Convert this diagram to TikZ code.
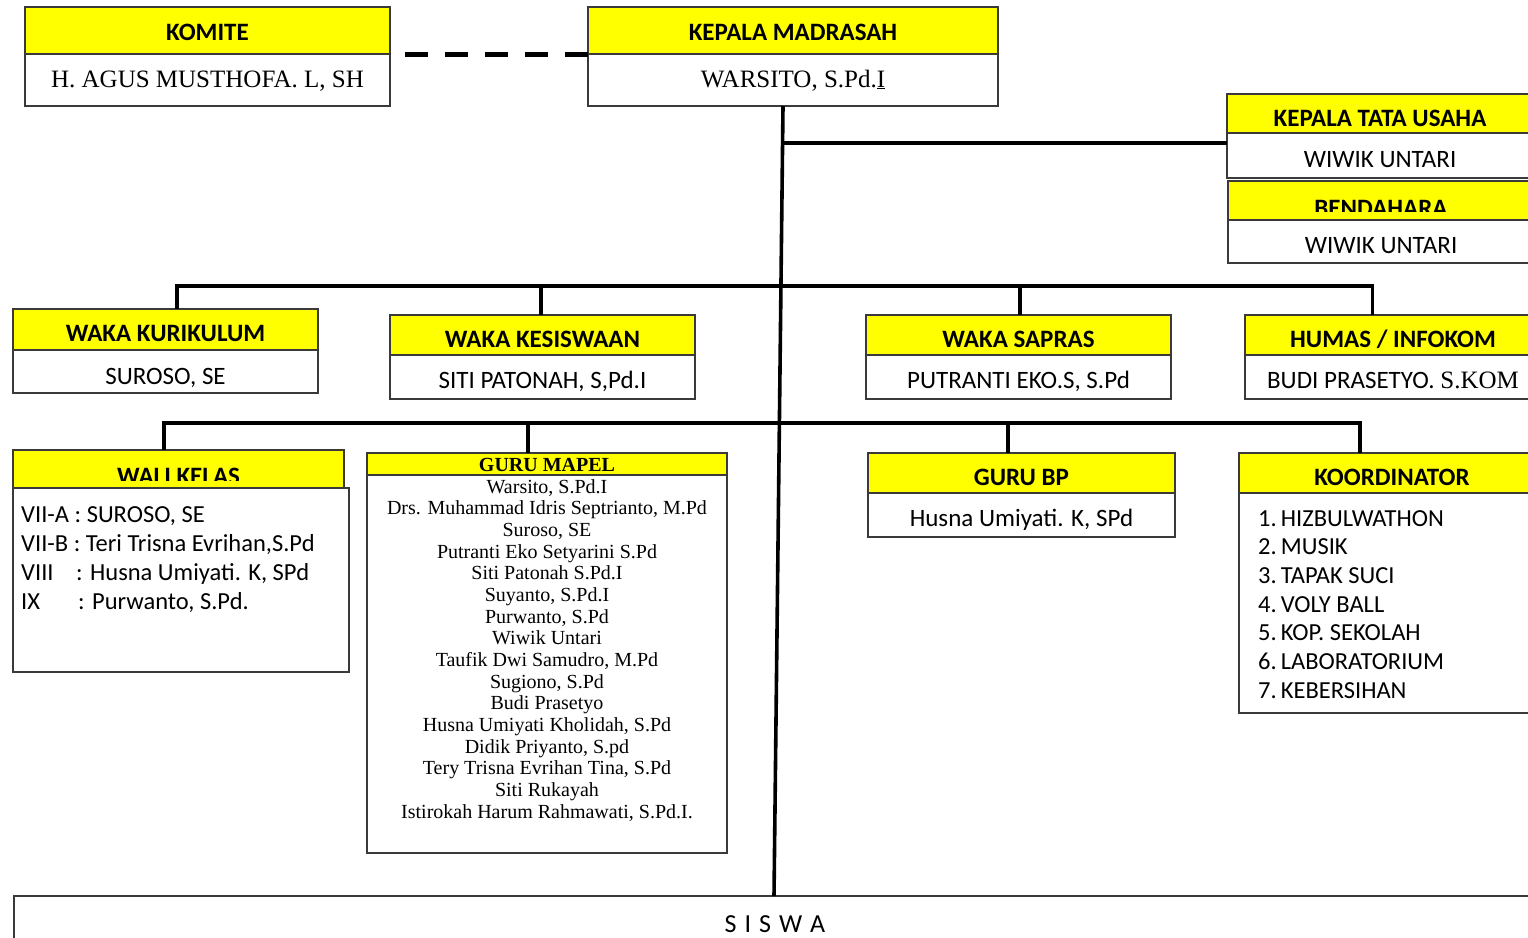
\documentclass[tikz,border=0pt]{standalone}
\usepackage{fontspec}
\setmainfont{Liberation Serif}
\newfontfamily\calfont{Carlito}
\definecolor{bl}{HTML}{3A3A3A}
\definecolor{hy}{HTML}{FFFF00}
\tikzset{
 ebox/.style={draw=bl, line width=1.1pt, inner sep=0pt, outer sep=0pt, anchor=north west},
 hbox/.style={ebox, fill=hy},
 wbox/.style={ebox, fill=white},
 conn/.style={line width=3.6pt, black},
 dashline/.style={line width=5pt, black, dash pattern=on 23pt off 17pt, dash phase=25pt},
 htxt/.style={anchor=base, inner sep=0pt, font=\calfont\bfseries\fontsize{25}{29}\selectfont},
 ntxt/.style={anchor=base, inner sep=0pt, font=\calfont\fontsize{25}{29}\selectfont},
 stxt/.style={anchor=base, inner sep=0pt, font=\fontsize{25}{29}\selectfont},
 ltxt/.style={anchor=base west, inner sep=0pt, font=\calfont\fontsize{24.5}{28}\selectfont},
 mtxt/.style={anchor=base, inner sep=0pt, font=\fontsize{20}{22}\selectfont},
 mhtxt/.style={anchor=base, inner sep=0pt, font=\bfseries\fontsize{20}{22}\selectfont},
}
\newcommand\ebox[6]{\node[#6, minimum width={#4-#2}, minimum height={#5-#3}] (#1) at (#2,#3) {};}
\begin{document}
\begin{tikzpicture}[x=1pt,y=-1pt]
\useasboundingbox (0,0) rectangle (1528,937);
\fill[white] (0,0) rectangle (1528,937);
% boxes
\ebox{komH}{25}{7}{390}{54}{hbox}
\ebox{komB}{25}{54}{390}{106}{wbox}
\ebox{kmH}{588}{7}{998}{54}{hbox}
\ebox{kmB}{588}{54}{998}{106}{wbox}
\ebox{ktuH}{1227}{94}{1534}{133}{hbox}
\ebox{ktuB}{1227}{133}{1534}{178}{wbox}
\ebox{benH}{1228}{181}{1535}{220}{hbox}
\ebox{benB}{1228}{220}{1535}{263}{wbox}
\ebox{kurH}{13}{309}{318}{350}{hbox}
\ebox{kurB}{13}{350}{318}{393}{wbox}
\ebox{kesH}{390}{315}{695}{355}{hbox}
\ebox{kesB}{390}{355}{695}{399}{wbox}
\ebox{sapH}{866}{315}{1171}{355}{hbox}
\ebox{sapB}{866}{355}{1171}{399}{wbox}
\ebox{humH}{1245}{315}{1541}{355}{hbox}
\ebox{humB}{1245}{355}{1541}{399}{wbox}
\ebox{waliH}{13}{450}{344}{488}{hbox}
\ebox{waliB}{13}{488}{349}{672}{wbox}
\ebox{gmH}{367}{453}{727}{475}{hbox}
\ebox{gmB}{367}{475}{727}{853}{wbox}
\ebox{bpH}{868}{453}{1175}{493}{hbox}
\ebox{bpB}{868}{493}{1175}{537}{wbox}
\ebox{koH}{1239}{453}{1545}{493}{hbox}
\ebox{koB}{1239}{493}{1545}{713}{wbox}
\ebox{siswa}{14}{896}{1536}{960}{wbox}
% texts
\node[htxt] (komT) at (207.5,40) {KOMITE};
\node[stxt] (komN) at (207.5,87) {H. AGUS MUSTHOFA. L, SH};
\node[htxt] (kmT) at (793,40) {KEPALA MADRASAH};
\node[stxt] (kmN) at (793,87) {WARSITO, S.Pd.\underline{I}};
\node[htxt] (ktuT) at (1380,126) {KEPALA TATA USAHA};
\node[ntxt] (ktuN) at (1380,167) {WIWIK UNTARI};
\begin{scope}
 \clip (benH.north west) rectangle ([yshift=9pt]benH.south east);
 \node[htxt] (benT) at (1381,216) {BENDAHARA};
\end{scope}
\node[ntxt] (benN) at (1381,253) {WIWIK UNTARI};
\node[htxt] (kurT) at (165.5,341) {WAKA KURIKULUM};
\node[ntxt] (kurN) at (165.5,384) {SUROSO, SE};
\node[htxt] (kesT) at (542.5,347) {WAKA KESISWAAN};
\node[ntxt] (kesN) at (542.5,388) {SITI PATONAH, S,Pd.I};
\node[htxt] (sapT) at (1018.5,347) {WAKA SAPRAS};
\node[ntxt] (sapN) at (1018.5,388) {PUTRANTI EKO.S, S.Pd};
\node[htxt] (humT) at (1393,347) {HUMAS / INFOKOM};
\node[ntxt] (humN) at (1393,388) {BUDI PRASETYO. {\rmfamily S.KOM}};
\begin{scope}
 \clip (waliH.north west) rectangle ([yshift=8pt]waliH.south east);
 \node[htxt] (waliT) at (178.5,484) {WALI KELAS};
\end{scope}
\node[ltxt] (wali1) at (21,522) {VII-A : SUROSO, SE};
\node[ltxt] (wali2) at (21,551) {VII-B : Teri Trisna Evrihan,S.Pd};
\node[ltxt] (wali3L) at (21,580) {VIII};
\node[ltxt] (wali3R) at (76,580) {: Husna Umiyati. K, SPd};
\node[ltxt] (wali4L) at (21,609) {IX};
\node[ltxt] (wali4R) at (78,609) {: Purwanto, S.Pd.};
\node[mhtxt] (gmT) at (547,471) {GURU MAPEL};
\foreach \t [count=\i] in {{Warsito, S.Pd.I},{Drs. Muhammad Idris Septrianto, M.Pd},{Suroso, SE},{Putranti Eko Setyarini S.Pd},{Siti Patonah S.Pd.I},{Suyanto, S.Pd.I},{Purwanto, S.Pd},{Wiwik Untari},{Taufik Dwi Samudro, M.Pd},{Sugiono, S.Pd},{Budi Prasetyo},{Husna Umiyati Kholidah, S.Pd},{Didik Priyanto, S.pd},{Tery Trisna Evrihan Tina, S.Pd},{Siti Rukayah},{Istirokah Harum Rahmawati, S.Pd.I.}}{
  \node[mtxt] (gm\i) at (547,493+21.67*\i-21.67) {\t};
}
\node[htxt] (bpT) at (1021.5,485) {GURU BP};
\node[ntxt] (bpN) at (1021.5,526) {Husna Umiyati. K, SPd};
\node[htxt] (koT) at (1392,485) {KOORDINATOR};
\foreach \t [count=\i] in {{1.\,HIZBULWATHON},{2.\,MUSIK},{3.\,TAPAK SUCI},{4.\,VOLY BALL},{5.\,KOP. SEKOLAH},{6.\,LABORATORIUM},{7.\,KEBERSIHAN}}{
  \node[ltxt] (ko\i) at (1258,526+28.7*\i-28.7) {\t};
}
\node[anchor=base, inner sep=0pt, font=\calfont\fontsize{26}{30}\selectfont] (siswaT) at (775,932) {S\hspace{8pt}I\hspace{8pt}S\hspace{8pt}W\hspace{8pt}A};
% connectors
\draw[dashline] (komH.south east) -- (kmH.south west);
\coordinate (tTop) at ([xshift=-10pt]kmB.south);
\coordinate (tBot) at ([xshift=-1pt]siswa.north);
\draw[conn] (tTop) -- (tBot);
\coordinate (ktuJ) at ([yshift=-10pt]ktuH.south west);
\draw[conn] (ktuJ) -- (tTop |- ktuJ);
\coordinate (bar1) at (0,286);
\coordinate (bar2) at (0,423);
\draw[conn] ([xshift=11.5pt]kurH.north) -- ([xshift=11.5pt]kurH.north |- bar1) -- ([xshift=-20.5pt]humH.north |- bar1) -- ([xshift=-20.5pt]humH.north);
\draw[conn] ([xshift=-1.5pt]kesH.north) -- ([xshift=-1.5pt]kesH.north |- bar1);
\draw[conn] ([xshift=1.5pt]sapH.north) -- ([xshift=1.5pt]sapH.north |- bar1);
\draw[conn] ([xshift=-14.5pt]waliH.north) -- ([xshift=-14.5pt]waliH.north |- bar2) -- ([xshift=-32pt]koH.north |- bar2) -- ([xshift=-32pt]koH.north);
\draw[conn] ([xshift=-19pt]gmH.north) -- ([xshift=-19pt]gmH.north |- bar2);
\draw[conn] ([xshift=-13.5pt]bpH.north) -- ([xshift=-13.5pt]bpH.north |- bar2);
\end{tikzpicture}
\end{document}
